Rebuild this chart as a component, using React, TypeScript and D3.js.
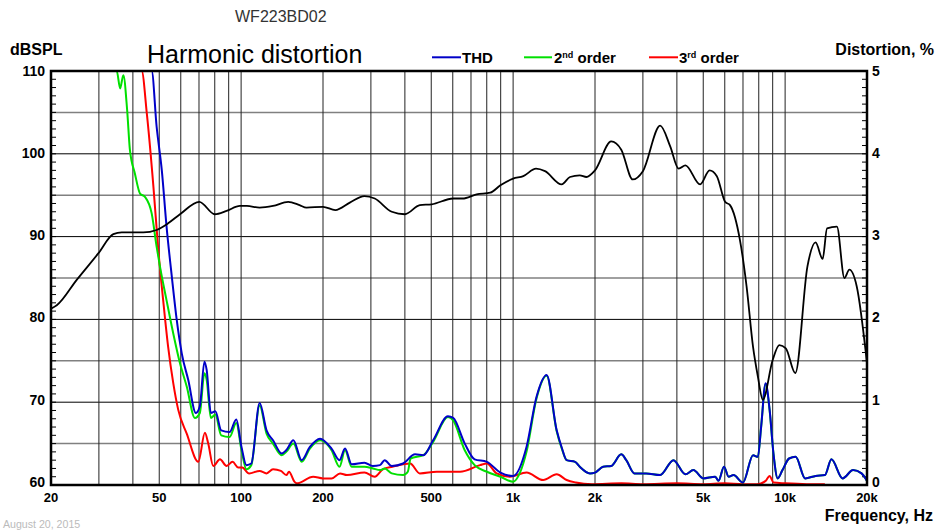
import React from "react";
import * as d3 from "d3";

// ---- data ----
const FREQ_LABEL_VALUES = [20, 50, 100, 200, 500, 1000, 2000, 5000, 10000, 20000];
const FREQ_LABELS = ["20", "50", "100", "200", "500", "1k", "2k", "5k", "10k", "20k"];
const GRID_FREQS = [30, 40, 50, 60, 70, 80, 90, 100, 200, 300, 400, 500, 600, 700, 800, 900, 1000, 2000, 3000, 4000, 5000, 6000, 7000, 8000, 9000, 10000];
const SPL_TICKS = [60, 70, 80, 90, 100, 110];
const DIST_TICKS = [0, 1, 2, 3, 4, 5];

const splData: [number, number][] = [
  [20, 81.3], [21, 81.7], [24.9, 84.8], [29.9, 88.0], [33.9, 90.3], [36.4, 90.5], [43.7, 90.5], [48.9, 90.8],
  [53.9, 91.6], [59.6, 92.7], [70.2, 94.2], [80, 92.7], [88.4, 93.1], [99, 93.7], [105, 93.7], [117, 93.5],
  [131, 93.7], [149, 94.2], [164, 93.8], [174, 93.5], [200, 93.6], [222, 93.2], [251, 94.1], [284, 94.9],
  [310, 94.6], [358, 93.0], [400, 92.7], [454, 93.8], [502, 93.9], [602, 94.6], [652, 94.6], [734, 95.1],
  [824, 95.3], [898, 96.2], [1000, 97.0], [1090, 97.3], [1214, 98.2], [1310, 97.9], [1508, 96.3], [1618, 97.2],
  [1758, 97.4], [1860, 97.2], [2000, 98.0], [2294, 101.5], [2498, 100.5], [2752, 96.9], [3000, 97.9],
  [3472, 103.4], [3780, 100.9], [4060, 98.2], [4300, 98.6], [4870, 96.3], [5274, 98.0], [5610, 97.3],
  [6016, 94.2], [6272, 93.8], [6820, 89.6], [7216, 84.0], [7620, 76.7], [7940, 73.1], [8280, 70.3],
  [9000, 75.1], [9520, 76.9], [10060, 76.5], [10900, 73.5], [12080, 86.4], [12940, 89.3], [13740, 87.3],
  [14260, 91.0], [15500, 91.2], [16520, 85.0], [17220, 86.0], [18330, 84.0], [20000, 74.7],
];

const thdData: [number, number][] = [
  [20, 5], [46.9, 5], [48.9, 4.33], [51.1, 3.8], [53.2, 3.12], [55.6, 2.52], [58, 1.99], [60.5, 1.59],
  [63.9, 1.27], [68.2, 0.87], [70.5, 0.95], [73.3, 1.49], [74.7, 1.39], [77.4, 0.87], [80.4, 0.89],
  [84.5, 0.66], [90.7, 0.64], [96, 0.79], [100.3, 0.46], [104.6, 0.24], [109, 0.26], [117, 0.99],
  [124, 0.66], [131, 0.54], [141, 0.38], [146.5, 0.42], [155.6, 0.54], [167, 0.3], [179, 0.46], [195, 0.56],
  [215, 0.44], [230, 0.3], [241, 0.44], [255, 0.25], [284, 0.27], [305, 0.23], [324, 0.24], [337, 0.3],
  [358, 0.23], [394, 0.26], [436, 0.37], [468, 0.36], [508, 0.54], [576, 0.83], [602, 0.81], [664, 0.5],
  [722, 0.31], [801, 0.28], [898, 0.15], [1000, 0.11], [1120, 0.46], [1220, 1.07], [1328, 1.33],
  [1446, 0.66], [1510, 0.45], [1573, 0.3], [1690, 0.28], [1758, 0.22], [1916, 0.14], [2000, 0.15],
  [2142, 0.22], [2294, 0.23], [2498, 0.37], [2606, 0.3], [2794, 0.14], [3080, 0.14], [3472, 0.12],
  [3886, 0.3], [4300, 0.13], [4600, 0.18], [5000, 0.08], [5534, 0.1], [5690, 0.05], [5960, 0.22],
  [6200, 0.1], [6460, 0.12], [7000, 0.03], [7620, 0.36], [7940, 0.34], [8160, 0.7], [8480, 1.23],
  [8770, 0.91], [9060, 0.38], [9390, 0.08], [9780, 0.18], [10340, 0.32], [10930, 0.34], [11850, 0.08],
  [12940, 0.11], [14000, 0.12], [14800, 0.31], [16260, 0.08], [17780, 0.18], [19100, 0.14], [20000, 0.05],
];

const h2Data: [number, number][] = [
  [20, 5], [34.9, 5], [35.9, 4.79], [36.9, 4.95], [38.1, 4.53], [39, 4.05], [40.7, 3.76], [42.5, 3.52],
  [44.3, 3.48], [46.9, 3.28], [48.9, 2.88], [50.3, 2.64], [53.2, 2.23], [56.3, 1.83], [59.6, 1.47],
  [63.1, 1.19], [67.6, 0.81], [70.5, 0.87], [73.3, 1.35], [74.7, 1.27], [77.4, 0.81], [80.4, 0.85],
  [84.5, 0.6], [90.7, 0.58], [96, 0.75], [100.3, 0.42], [104.6, 0.19], [109, 0.24], [117, 0.96],
  [124, 0.62], [131, 0.5], [141, 0.36], [146.5, 0.4], [155.6, 0.5], [167, 0.28], [179, 0.44], [195, 0.54],
  [215, 0.42], [230, 0.22], [241, 0.42], [255, 0.22], [284, 0.22], [305, 0.2], [324, 0.18], [337, 0.2],
  [358, 0.14], [394, 0.12], [410, 0.16], [420, 0.32], [468, 0.36], [508, 0.52], [576, 0.82], [602, 0.78],
  [664, 0.42], [722, 0.24], [801, 0.16], [898, 0.1], [1000, 0.04], [1060, 0.15], [1120, 0.4], [1220, 1.05],
  [1328, 1.32], [1446, 0.65], [1510, 0.44], [1573, 0.3], [1690, 0.28], [1758, 0.22], [1916, 0.14],
  [2000, 0.15], [2142, 0.22], [2294, 0.23], [2498, 0.37], [2606, 0.3], [2794, 0.14], [3080, 0.14],
  [3472, 0.12], [3886, 0.3], [4300, 0.13], [4600, 0.18], [5000, 0.08], [5534, 0.1], [5690, 0.05],
  [5960, 0.22], [6200, 0.1], [6460, 0.12], [7000, 0.03], [7620, 0.36], [7940, 0.34], [8160, 0.7],
  [8480, 1.22], [8770, 0.9], [9060, 0.38], [9390, 0.08], [9780, 0.18], [10340, 0.32], [10930, 0.34],
  [11850, 0.08], [12940, 0.11], [14000, 0.12], [14800, 0.31], [16260, 0.08], [17780, 0.18], [19100, 0.14],
  [20000, 0.05],
];

const h3Data: [number, number][] = [
  [20, 5], [43.1, 5], [45, 4.49], [47.6, 3.6], [49.6, 2.84], [51.7, 2.23], [53.9, 1.67], [56.3, 1.23],
  [58.7, 0.91], [63.1, 0.62], [69.6, 0.28], [73.6, 0.63], [75.7, 0.5], [79, 0.23], [83.6, 0.31],
  [88.4, 0.23], [93, 0.28], [97.6, 0.21], [101, 0.21], [107, 0.14], [117, 0.17], [124, 0.14], [131, 0.19],
  [140, 0.17], [146.6, 0.12], [150, 0.16], [157, 0.04], [160, 0.02], [184, 0.1], [200, 0.08], [215, 0.08],
  [231, 0.14], [245, 0.12], [284, 0.15], [310, 0.1], [332, 0.19], [360, 0.22], [418, 0.26], [454, 0.14],
  [524, 0.16], [638, 0.16], [756, 0.24], [801, 0.26], [870, 0.14], [973, 0.1], [1120, 0.15], [1290, 0.06],
  [1446, 0.13], [1573, 0.06], [1700, 0.03], [1950, 0.01], [2500, 0.02], [3000, 0.01], [4000, 0.02],
  [5000, 0.01], [6000, 0.02], [7000, 0.01], [7900, 0.01], [8480, 0.05], [8770, 0.11], [9060, 0.03],
  [10000, 0.02], [12000, 0.01], [14000, 0.01],
];

const FONT = "'Liberation Sans', Arial, sans-serif";

export default function App() {
  const L = 51, R = 867, T = 71, B = 485;
  const x = d3.scaleLog().domain([20, 20000]).range([L, R]);
  const yL = d3.scaleLinear().domain([60, 110]).range([B, T]);
  const yR = d3.scaleLinear().domain([0, 5]).range([B, T]);

  const lineL = d3.line<[number, number]>().x(d => x(d[0])).y(d => yL(d[1])).curve(d3.curveMonotoneX);
  const lineR = d3.line<[number, number]>().x(d => x(d[0])).y(d => yR(d[1])).curve(d3.curveMonotoneX);

  const dbMinor = d3.range(61, 110);
  const distMinor = d3.range(1, 50).map(v => v / 10);
  const dbHalf = [65, 75, 85, 95, 105];
  const dbMajor = [70, 80, 90, 100];
  // label baseline offset: labels sit slightly higher toward the bottom of the axis
  const labOff = (frac: number) => 4.5 - 2.5 * (1 - frac);

  return (
    <>
      <style>{"body{margin:0;}"}</style>
      <svg width={936} height={531} style={{ display: "block", fontFamily: FONT }}>
        <rect x={0} y={0} width={936} height={531} fill="#fff" />
        <defs>
          <clipPath id="plotclip">
            <rect x={L} y={T - 1} width={R - L} height={B - T + 1} />
          </clipPath>
        </defs>

        {/* grid */}
        {dbHalf.map(v => (
          <line key={"h" + v} x1={L} x2={R} y1={yL(v)} y2={yL(v)} stroke="#808080" strokeWidth={1.5} />
        ))}
        {dbMajor.map(v => (
          <line key={"m" + v} x1={L} x2={R} y1={yL(v)} y2={yL(v)} stroke="#000" strokeWidth={1} />
        ))}
        {GRID_FREQS.map(f => (
          <line key={"v" + f} x1={x(f)} x2={x(f)} y1={T} y2={B} stroke="#222" strokeWidth={1} />
        ))}

        {/* minor ticks */}
        {dbMinor.map(v => (
          <line key={"lt" + v} x1={L} x2={L + 5} y1={yL(v)} y2={yL(v)} stroke="#000" strokeWidth={1} />
        ))}
        {distMinor.map(v => (
          <line key={"rt" + v} x1={R - 5} x2={R} y1={yR(v)} y2={yR(v)} stroke="#000" strokeWidth={1} />
        ))}

        {/* curves */}
        <g clipPath="url(#plotclip)" fill="none" strokeLinejoin="round">
          <path d={lineR(h3Data) || ""} stroke="#ff0000" strokeWidth={2} />
          <path d={lineR(h2Data) || ""} stroke="#00e000" strokeWidth={2} />
          <path d={lineR(thdData) || ""} stroke="#0000c8" strokeWidth={2} />
          <path d={lineL(splData) || ""} stroke="#000" strokeWidth={1.8} />
        </g>

        {/* frame */}
        <rect x={L} y={T} width={R - L} height={B - T} fill="none" stroke="#000" strokeWidth={2.5} />

        {/* axis labels */}
        {SPL_TICKS.map(v => (
          <text key={"ll" + v} x={45} y={yL(v) + labOff((v - 60) / 50)} textAnchor="end" fontSize={14} fontWeight="bold">{v}</text>
        ))}
        {DIST_TICKS.map(v => (
          <text key={"rl" + v} x={872} y={yR(v) + labOff(v / 5)} textAnchor="start" fontSize={14} fontWeight="bold">{v}</text>
        ))}
        {FREQ_LABEL_VALUES.map((f, i) => (
          <text key={"fl" + f} x={x(f)} y={502} textAnchor="middle" fontSize={13} fontWeight="bold">{FREQ_LABELS[i]}</text>
        ))}

        {/* titles */}
        <text x={235} y={21.7} fontSize={16} fill="#333">WF223BD02</text>
        <text x={10} y={55} fontSize={16} fontWeight="bold">dBSPL</text>
        <text x={147} y={63} fontSize={25}>Harmonic distortion</text>
        <text x={934} y={55} fontSize={16} fontWeight="bold" textAnchor="end">Distortion, %</text>
        <text x={933} y={521} fontSize={16} fontWeight="bold" textAnchor="end">Frequency, Hz</text>
        <text x={3} y={528} fontSize={10.6} fill="#bbb">August 20, 2015</text>

        {/* legend */}
        <line x1={432} x2={461} y1={57.3} y2={57.3} stroke="#0000c8" strokeWidth={2} />
        <text x={462} y={63} fontSize={15} fontWeight="bold">THD</text>
        <line x1={524} x2={552} y1={57.3} y2={57.3} stroke="#00e000" strokeWidth={2} />
        <text x={554} y={63} fontSize={15} fontWeight="bold">
          2<tspan fontSize={9} dy={-5}>nd</tspan><tspan dy={5}> order</tspan>
        </text>
        <line x1={649} x2={678} y1={57.3} y2={57.3} stroke="#ff0000" strokeWidth={2} />
        <text x={679} y={63} fontSize={15} fontWeight="bold">
          3<tspan fontSize={9} dy={-5}>rd</tspan><tspan dy={5}> order</tspan>
        </text>
      </svg>
    </>
  );
}
